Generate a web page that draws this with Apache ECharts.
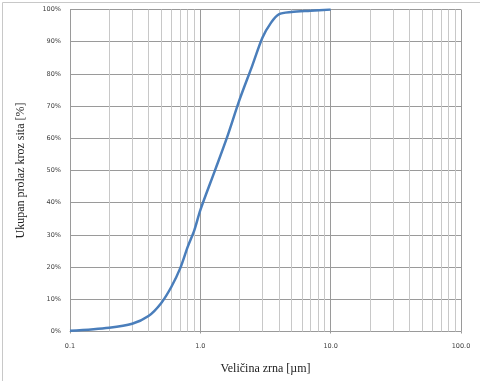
<!DOCTYPE html>
<html>
<head>
<meta charset="utf-8">
<script src="https://cdn.jsdelivr.net/npm/echarts@6/dist/echarts.min.js"></script>
<style>html,body{margin:0;padding:0;background:#fff}#c{width:480px;height:381px}</style>
</head>
<body>
<div id="c"></div>
<script>
const grainSizes = [0.1, 0.2, 0.3, 0.4, 0.5, 0.6, 0.7, 0.8, 0.9, 1.0, 1.3, 1.6, 2.0, 2.5, 3.0, 3.5, 4.0, 5.0, 7.0, 10.0];
const passingPct = [0.2, 1.2, 2.4, 4.8, 8.8, 13.9, 19.6, 26.3, 31.5, 37.7, 50.2, 60.2, 72.0, 82.5, 91.3, 96.0, 98.5, 99.2, 99.6, 100];
const minorGridValues = [0.2,0.3,0.4,0.5,0.6,0.7,0.8,0.9,2,3,4,5,6,7,8,9,20,30,40,50,60,70,80,90];
const xTitle = 'Veličina zrna [µm]';
const yTitle = 'Ukupan prolaz kroz sita [%]';

const chart = echarts.init(document.getElementById('c'), null, {renderer: 'canvas'});
chart.setOption({
  animation: false,
  backgroundColor: '#fff',
  graphic: [{
    type: 'rect', left: 0, top: 0, z: 100, silent: true,
    shape: {x: 0.5, y: 0.5, width: 479, height: 380},
    style: {fill: 'none', stroke: '#c8c8c8', lineWidth: 1}
  }],
  grid: {left: 70, right: 19, top: 9.5, bottom: 49.5, containLabel: false},
  xAxis: {
    type: 'log', logBase: 10, min: 0.1, max: 100,
    name: xTitle, nameLocation: 'middle', nameGap: 31,
    nameTextStyle: {fontFamily: 'Liberation Serif', fontSize: 12, color: '#222'},
    axisLine: {show: true, lineStyle: {color: '#9a9a9a', width: 1}},
    axisTick: {show: true, length: 2, lineStyle: {color: '#9a9a9a'}},
    axisLabel: {fontFamily: 'DejaVu Sans', fontSize: 6.5, color: '#404040', margin: 11,
      formatter: v => Number(v).toFixed(1)},
    splitLine: {show: true, lineStyle: {color: '#9a9a9a', width: 1}}
  },
  yAxis: {
    type: 'value', min: 0, max: 100, interval: 10,
    name: yTitle, nameLocation: 'middle', nameGap: 43,
    nameTextStyle: {fontFamily: 'Liberation Serif', fontSize: 12, color: '#222'},
    axisLine: {show: true, lineStyle: {color: '#9a9a9a', width: 1}},
    axisTick: {show: false},
    axisLabel: {fontFamily: 'DejaVu Sans', fontSize: 6.5, color: '#404040', margin: 9,
      formatter: '{value}%'},
    splitLine: {show: true, lineStyle: {color: '#9a9a9a', width: 1}}
  },
  series: [
    {
      type: 'line', data: [], z: 1, silent: true,
      markLine: {
        silent: true, symbol: 'none', animation: false,
        label: {show: false},
        lineStyle: {color: '#c8c8c8', type: 'solid', width: 1},
        emphasis: {disabled: true},
        data: minorGridValues.map(v => ({xAxis: v}))
      }
    },
    {
      type: 'line', z: 5,
      data: grainSizes.map((x, i) => [x, passingPct[i]]),
      smooth: 0.3,
      showSymbol: false, symbol: 'none',
      lineStyle: {color: '#4a7ebb', width: 2.5}
    }
  ]
});
</script>
</body>
</html>
